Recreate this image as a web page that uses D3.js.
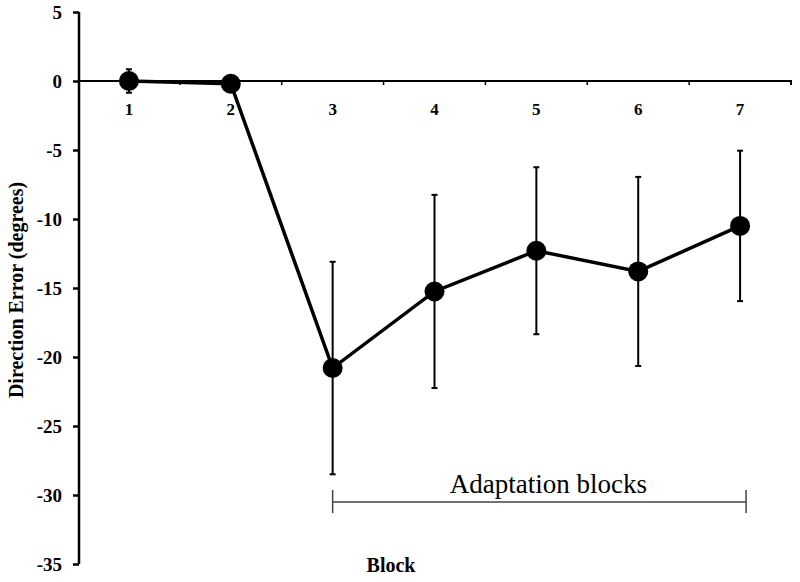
<!DOCTYPE html>
<html>
<head>
<meta charset="utf-8">
<script src="https://cdn.jsdelivr.net/npm/d3@7"></script>
<style>
  body { margin: 0; background: #fff; }
  svg { display: block; }
  text { font-family: "Liberation Serif", "DejaVu Serif", serif; }
</style>
</head>
<body>
<svg id="chart" width="800" height="582"></svg>
<script>
const categories = ["1", "2", "3", "4", "5", "6", "7"];
const meanError = [0.0, -0.2, -20.8, -15.25, -12.3, -13.8, -10.5];
const errorSize = [0.85, 0.0, 7.7, 7.0, 6.05, 6.85, 5.45];
const yTicks = [5, 0, -5, -10, -15, -20, -25, -30, -35];
const adaptationRange = ["3", "7"];

const svg = d3.select("#chart");
const x = d3.scaleBand().domain(categories).range([78, 791]).padding(0);
const y = d3.scaleLinear().domain([-35, 5]).range([564, 12]);
const cx = d => x(d) + x.bandwidth() / 2;

// Y axis
const yAxis = svg.append("g")
  .attr("transform", `translate(${x.range()[0] + 1},0)`)
  .call(d3.axisLeft(y).tickValues(yTicks).tickSize(6).tickPadding(11).tickFormat(d => String(d)));
yAxis.select(".domain").attr("stroke", "#000").attr("stroke-width", 2.5)
  .attr("d", `M0,${y(5)}V${y(-35)}`);
yAxis.selectAll(".tick line").attr("stroke", "#000").attr("stroke-width", 2.5);
yAxis.selectAll(".tick text")
  .style("font-family", "'Liberation Serif', serif")
  .style("font-weight", "bold").style("font-size", "19px").attr("fill", "#000");

// X axis at y=0
const xAxis = svg.append("g")
  .attr("transform", `translate(0,${y(0)})`)
  .call(d3.axisBottom(x).tickSize(0).tickPadding(22));
xAxis.select(".domain").attr("stroke", "#000").attr("stroke-width", 2)
  .attr("d", `M${x.range()[0]},0H${x.range()[1]}V4`);
xAxis.selectAll(".tick text")
  .style("font-family", "'Liberation Serif', serif")
  .style("font-weight", "bold").style("font-size", "17px").attr("fill", "#000");
// boundary ticks
xAxis.selectAll(".bt").data(categories.slice(1)).enter().append("line")
  .attr("x1", d => x(d)).attr("x2", d => x(d))
  .attr("y1", 0).attr("y2", 4).attr("stroke", "#000").attr("stroke-width", 1.5);

// Error bars
const eb = svg.append("g");
categories.forEach((c, i) => {
  if (errorSize[i] <= 0) return;
  const top = y(meanError[i] + errorSize[i]);
  const bot = y(meanError[i] - errorSize[i]);
  const xc = cx(c);
  eb.append("line").attr("x1", xc).attr("x2", xc).attr("y1", top).attr("y2", bot)
    .attr("stroke", "#000").attr("stroke-width", 2);
  eb.append("line").attr("x1", xc - 3).attr("x2", xc + 3).attr("y1", top).attr("y2", top)
    .attr("stroke", "#000").attr("stroke-width", 2);
  eb.append("line").attr("x1", xc - 3).attr("x2", xc + 3).attr("y1", bot).attr("y2", bot)
    .attr("stroke", "#000").attr("stroke-width", 2);
});

// Line
const data = categories.map((c, i) => ({ c, v: meanError[i] }));
svg.append("path").datum(data)
  .attr("fill", "none").attr("stroke", "#000").attr("stroke-width", 3.5)
  .attr("d", d3.line().x(d => cx(d.c)).y(d => y(d.v)));

// Points
svg.selectAll(".pt").data(data).enter().append("circle")
  .attr("cx", d => cx(d.c)).attr("cy", d => y(d.v)).attr("r", 10).attr("fill", "#000");

// Adaptation bracket
const bx1 = cx(adaptationRange[0]), bx2 = cx(adaptationRange[1]) + 6;
const by = 502;
const br = svg.append("g").attr("stroke", "#444").attr("stroke-width", 1.5);
br.append("line").attr("x1", bx1).attr("x2", bx2).attr("y1", by).attr("y2", by);
br.append("line").attr("x1", bx1).attr("x2", bx1).attr("y1", by - 12).attr("y2", by + 11);
br.append("line").attr("x1", bx2).attr("x2", bx2).attr("y1", by - 12).attr("y2", by + 11);
svg.append("text").attr("x", (bx1 + bx2) / 2 + 9).attr("y", 493)
  .attr("text-anchor", "middle").style("font-size", "27px").attr("fill", "#000")
  .text("Adaptation blocks");

// Axis titles
svg.append("text").attr("x", 391).attr("y", 572).attr("text-anchor", "middle")
  .style("font-weight", "bold").style("font-size", "20px").text("Block");
svg.append("text").attr("transform", "translate(23,290) rotate(-90)")
  .attr("text-anchor", "middle").style("font-weight", "bold").style("font-size", "20px")
  .text("Direction Error (degrees)");
</script>
</body>
</html>
